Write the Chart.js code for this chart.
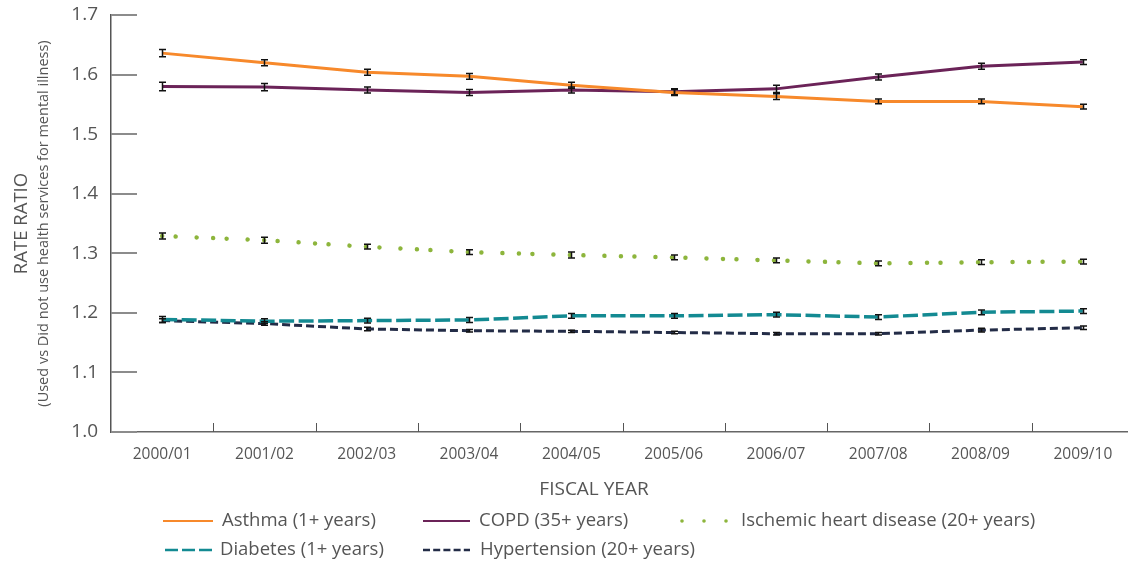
<!DOCTYPE html>
<html>
<head>
<meta charset="utf-8">
<title>Rate ratio by fiscal year</title>
<script src="https://cdn.jsdelivr.net/npm/chart.js@4.4.0/dist/chart.umd.min.js"></script>
<style>
  html, body { margin: 0; padding: 0; overflow: hidden; background: #fff; }
  #wrap { position: relative; width: 1134px; height: 561px; }
</style>
</head>
<body>
<div id="wrap"><canvas id="c"></canvas></div>
<script>
// Fiscal years on the x axis
const fiscalYears = ['2000/01', '2001/02', '2002/03', '2003/04', '2004/05',
                     '2005/06', '2006/07', '2007/08', '2008/09', '2009/10'];

// Rate ratios (used vs did not use health services for mental illness)
const asthma       = [1.636, 1.620, 1.604, 1.597, 1.582, 1.570, 1.563, 1.555, 1.555, 1.546];
const copd         = [1.580, 1.579, 1.574, 1.570, 1.574, 1.571, 1.576, 1.596, 1.614, 1.621];
const ischemic     = [1.329, 1.322, 1.311, 1.302, 1.297, 1.293, 1.288, 1.283, 1.285, 1.286];
const diabetes     = [1.189, 1.186, 1.187, 1.188, 1.195, 1.195, 1.197, 1.193, 1.201, 1.203];
const hypertension = [1.187, 1.182, 1.173, 1.170, 1.169, 1.167, 1.165, 1.165, 1.171, 1.175];

// 95% confidence interval half-widths
const asthmaCI       = [0.006, 0.005, 0.005, 0.005, 0.005, 0.005, 0.005, 0.004, 0.004, 0.004];
const copdCI         = [0.007, 0.006, 0.005, 0.005, 0.005, 0.005, 0.006, 0.005, 0.005, 0.004];
const ischemicCI     = [0.005, 0.005, 0.004, 0.004, 0.005, 0.004, 0.004, 0.004, 0.004, 0.004];
const diabetesCI     = [0.005, 0.004, 0.004, 0.004, 0.004, 0.004, 0.004, 0.004, 0.004, 0.004];
const hypertensionCI = [0.003, 0.003, 0.003, 0.002, 0.002, 0.002, 0.002, 0.002, 0.003, 0.003];

// Y axis ticks
const yTicks = [1.0, 1.1, 1.2, 1.3, 1.4, 1.5, 1.6, 1.7];

const FONT = '"Open Sans", Lato, sans-serif';
const TEXT = '#555555';

const ciSets = [asthmaCI, copdCI, ischemicCI, diabetesCI, hypertensionCI];

// Legend grid: dataset index, sample start/end, label x, row centre
const legendCells = [
  { ds: 0, x0: 163, x1: 213, tx: 222, y: 521 },
  { ds: 1, x0: 423, x1: 470, tx: 479, y: 521 },
  { ds: 2, x0: 682, x1: 726, tx: 741, y: 521, dots: true },
  { ds: 3, x0: 165, x1: 212, tx: 220, y: 550 },
  { ds: 4, x0: 423, x1: 470, tx: 480, y: 550 }
];

const decor = {
  id: 'decor',
  beforeDatasetsDraw(chart) {
    const { ctx, chartArea: a, scales: { x, y } } = chart;
    ctx.save();
    // short inward ticks on the value axis
    ctx.strokeStyle = '#8c8c8c';
    ctx.lineWidth = 2;
    y.ticks.forEach(t => {
      const py = Math.round(y.getPixelForValue(t.value));
      ctx.beginPath();
      ctx.moveTo(a.left, py);
      ctx.lineTo(a.left + 26, py);
      ctx.stroke();
    });
    // category separators rising from the baseline
    ctx.strokeStyle = '#555';
    ctx.lineWidth = 1;
    for (let i = 1; i < fiscalYears.length; i++) {
      const px = Math.round((x.getPixelForValue(i - 1) + x.getPixelForValue(i)) / 2) + 0.5;
      ctx.beginPath();
      ctx.moveTo(px, a.bottom);
      ctx.lineTo(px, a.bottom - 9);
      ctx.stroke();
    }
    ctx.restore();
  },
  afterDatasetsDraw(chart) {
    const { ctx, scales: { x, y } } = chart;
    ctx.save();
    ctx.strokeStyle = '#111';
    ctx.lineWidth = 1.5;
    chart.data.datasets.forEach((ds, i) => {
      const ci = ciSets[i];
      ds.data.forEach((v, j) => {
        const px = Math.round(x.getPixelForValue(j)) + 0.5;
        const top = y.getPixelForValue(v + ci[j]);
        const bot = y.getPixelForValue(v - ci[j]);
        ctx.beginPath();
        ctx.moveTo(px, top); ctx.lineTo(px, bot);
        ctx.moveTo(px - 3.5, top); ctx.lineTo(px + 3.5, top);
        ctx.moveTo(px - 3.5, bot); ctx.lineTo(px + 3.5, bot);
        ctx.stroke();
      });
    });
    ctx.restore();
  },
  afterDraw(chart) {
    const { ctx, chartArea: a } = chart;
    ctx.save();
    ctx.fillStyle = TEXT;
    ctx.textAlign = 'center';
    ctx.textBaseline = 'middle';
    // value axis title, two lines
    const cy = (a.top + a.bottom) / 2;
    ctx.save();
    ctx.translate(22, cy);
    ctx.rotate(-Math.PI / 2);
    ctx.font = '18.5px ' + FONT;
    ctx.fillText('RATE RATIO', 0, 0);
    ctx.restore();
    ctx.save();
    ctx.translate(44, cy);
    ctx.rotate(-Math.PI / 2);
    ctx.font = '14.5px ' + FONT;
    ctx.fillText('(Used vs Did not use health services for mental illness)', 0, 0);
    ctx.restore();
    // category axis title
    ctx.font = '19px ' + FONT;
    ctx.fillText('FISCAL YEAR', 594, 490);
    // legend
    ctx.textAlign = 'left';
    ctx.font = '18.5px ' + FONT;
    legendCells.forEach(c => {
      const ds = chart.data.datasets[c.ds];
      ctx.save();
      ctx.strokeStyle = ds.borderColor;
      if (c.dots) {
        ctx.fillStyle = ds.borderColor;
        [c.x0, (c.x0 + c.x1) / 2, c.x1].forEach(dx => {
          ctx.beginPath();
          ctx.arc(dx, c.y, 1.8, 0, Math.PI * 2);
          ctx.fill();
        });
      } else {
        ctx.lineWidth = ds.legendWidth || 2;
        ctx.setLineDash(ds.legendDash || []);
        ctx.beginPath();
        ctx.moveTo(c.x0, c.y);
        ctx.lineTo(c.x1, c.y);
        ctx.stroke();
      }
      ctx.restore();
      ctx.fillText(ds.label, c.tx, c.y);
    });
    ctx.restore();
  }
};

new Chart(document.getElementById('c'), {
  type: 'line',
  data: {
    labels: fiscalYears,
    datasets: [
      { label: 'Asthma (1+ years)', data: asthma, borderColor: '#F7892B',
        borderWidth: 3, legendWidth: 2 },
      { label: 'COPD (35+ years)', data: copd, borderColor: '#6B2358',
        borderWidth: 3, legendWidth: 2 },
      { label: 'Ischemic heart disease (20+ years)', data: ischemic, borderColor: '#8DB53C',
        borderWidth: 4.5, borderCapStyle: 'round', borderDash: [0.01, 13.5, 0.01, 21, 0.01, 16.5] },
      { label: 'Diabetes (1+ years)', data: diabetes, borderColor: '#138A92',
        borderWidth: 3.5, borderDash: [15, 4.5], legendWidth: 2.5, legendDash: [13, 4] },
      { label: 'Hypertension (20+ years)', data: hypertension, borderColor: '#232C47',
        borderWidth: 3, borderDash: [8, 4], legendWidth: 2.5, legendDash: [7, 3.2] }
    ]
  },
  options: {
    responsive: true,
    maintainAspectRatio: false,
    animation: false,
    layout: { padding: { top: 15, right: 0, bottom: 0, left: 0 } },
    elements: { point: { radius: 0, hoverRadius: 0 }, line: { tension: 0 } },
    plugins: { legend: { display: false }, tooltip: { enabled: false } },
    scales: {
      x: {
        type: 'category',
        offset: true,
        grid: { display: false, drawTicks: false },
        border: { display: true, color: '#666', width: 1.5 },
        ticks: { color: TEXT, font: { family: FONT, size: 15.5 }, padding: 13, maxRotation: 0, autoSkip: false },
        afterFit(s) { s.height = 129; }
      },
      y: {
        min: 1.0,
        max: 1.7,
        afterBuildTicks(s) { s.ticks = yTicks.map(v => ({ value: v })); },
        grid: { display: false, drawTicks: false },
        border: { display: true, color: '#555', width: 1.5 },
        ticks: { color: TEXT, font: { family: FONT, size: 19, lineHeight: 0.1 }, padding: 13,
                 callback: v => Number(v).toFixed(1) },
        afterFit(s) { s.width = 111; }
      }
    }
  },
  plugins: [decor]
});
</script>
</body>
</html>
